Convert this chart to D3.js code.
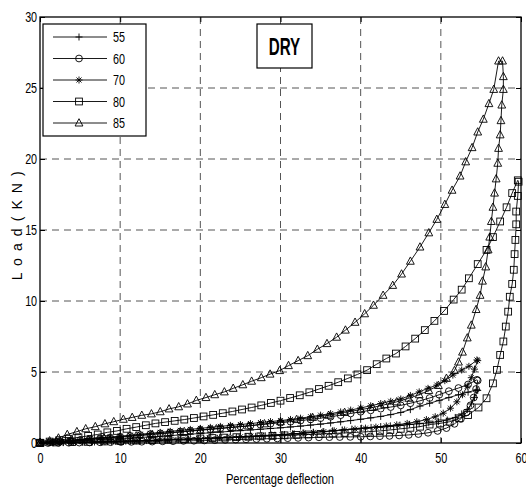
<!DOCTYPE html>
<html><head><meta charset="utf-8">
<script src="https://cdn.jsdelivr.net/npm/d3@7"></script>
<style>
body{margin:0;background:#fff;}
text{font-family:"Liberation Sans",Arial,sans-serif;}
</style></head>
<body><svg id="c" width="526" height="488"></svg>
<script>
const seriesNames = ["55","60","70","80","85"];
const xTicks = [0,10,20,30,40,50,60];
const yTicks = [0,5,10,15,20,25,30];

const load55 = [[0,0],[1.25,0.03],[2.5,0.07],[3.75,0.11],[5,0.15],[6.25,0.19],[7.5,0.23],[8.75,0.27],[10,0.31],[11.25,0.35],[12.5,0.39],[13.75,0.43],[15,0.47],[16.25,0.52],[17.5,0.57],[18.75,0.62],[20,0.67],[21.25,0.72],[22.5,0.77],[23.75,0.82],[25,0.87],[26.25,0.92],[27.5,0.97],[28.75,1.02],[30,1.07],[31.25,1.13],[32.5,1.19],[33.75,1.26],[35,1.33],[36.25,1.41],[37.5,1.49],[38.75,1.58],[40,1.67],[41.25,1.77],[42.5,1.87],[43.75,2.0],[45,2.15],[46.2,2.35],[47.4,2.6],[48.6,2.8],[49.8,3.0],[51,3.2],[52.2,3.4],[53.4,3.58],[54.5,3.75]];
const unload55 = [[54.6,3.7],[54.2,3.2],[53.8,2.75],[53.3,2.35],[52.6,2.05],[51.8,1.8],[50.8,1.62],[49.7,1.5],[48.5,1.42],[47.3,1.36],[46.1,1.31],[44.9,1.26],[43.7,1.21],[42.5,1.16],[41.3,1.1],[40.1,1.04],[38.9,0.98],[37.7,0.92],[36.5,0.86],[35.3,0.8],[34.1,0.75],[32.9,0.7],[31.7,0.65],[30.5,0.6],[29.3,0.55],[28.1,0.51],[26.9,0.47],[25.7,0.43],[24.5,0.4],[23.3,0.37],[22.1,0.34],[20.9,0.31],[19.7,0.28],[18.5,0.25],[17.3,0.23],[16.1,0.21],[14.9,0.19],[13.7,0.17],[12.5,0.15],[11.3,0.13],[10.1,0.11],[8.9,0.09],[7.7,0.08],[6.5,0.06],[5.3,0.05],[4.1,0.04],[2.9,0.03],[1.7,0.02],[0.5,0.01]];

const load60 = [[0,0],[1.25,0.05],[2.5,0.1],[3.75,0.15],[5,0.2],[6.25,0.26],[7.5,0.32],[8.75,0.38],[10,0.44],[11.25,0.5],[12.5,0.56],[13.75,0.62],[15,0.68],[16.25,0.74],[17.5,0.8],[18.75,0.86],[20,0.92],[21.25,0.98],[22.5,1.04],[23.75,1.1],[25,1.16],[26.25,1.22],[27.5,1.29],[28.75,1.36],[30,1.43],[31.25,1.5],[32.5,1.58],[33.75,1.66],[35,1.75],[36.25,1.85],[37.5,1.96],[38.75,2.08],[40,2.2],[41.25,2.3],[42.5,2.42],[43.75,2.53],[45,2.65],[46.2,2.8],[47.4,2.97],[48.6,3.17],[49.8,3.4],[51,3.65],[52.2,3.87],[53.4,4.12],[54.5,4.45]];
const unload60 = [[54.6,4.4],[54.4,3.8],[54.1,3.2],[53.7,2.65],[53.2,2.15],[52.5,1.7],[51.7,1.35],[50.7,1.05],[49.6,0.85],[48.4,0.72],[47.2,0.63],[46,0.57],[44.8,0.53],[43.6,0.5],[42.4,0.48],[41.2,0.46],[40,0.44],[38.7,0.43],[37.4,0.42],[36.1,0.41],[34.8,0.4],[33.5,0.38],[32.2,0.36],[30.9,0.34],[29.6,0.32],[28.3,0.3],[27,0.28],[25.7,0.26],[24.4,0.24],[23.1,0.22],[21.8,0.2],[20.5,0.18],[19.2,0.16],[17.9,0.15],[16.6,0.13],[15.3,0.12],[14,0.1],[12.7,0.09],[11.4,0.08],[10.1,0.07],[8.8,0.06],[7.5,0.05],[6.2,0.04],[4.9,0.03],[3.6,0.02],[2.3,0.01],[1,0]];

const load70 = [[0,0],[1.25,0.06],[2.5,0.12],[3.75,0.18],[5,0.24],[6.25,0.3],[7.5,0.36],[8.75,0.42],[10,0.48],[11.25,0.55],[12.5,0.62],[13.75,0.68],[15,0.75],[16.25,0.82],[17.5,0.89],[18.75,0.96],[20,1.03],[21.25,1.1],[22.5,1.17],[23.75,1.24],[25,1.3],[26.25,1.37],[27.5,1.44],[28.75,1.51],[30,1.58],[31.25,1.66],[32.5,1.75],[33.75,1.85],[35,1.96],[36.25,2.07],[37.5,2.19],[38.75,2.32],[40,2.47],[41.25,2.62],[42.5,2.78],[43.75,2.94],[45,3.1],[46.2,3.35],[47.3,3.6],[48.4,3.85],[49.5,4.08],[50.5,4.39],[51.5,4.78],[52.6,5.14],[53.5,5.4],[54.5,5.85]];
const unload70 = [[54.6,5.8],[54.2,5.2],[53.8,4.6],[53.3,4.0],[52.7,3.4],[52,2.9],[51.2,2.45],[50.3,2.1],[49.3,1.85],[48.2,1.65],[47,1.5],[45.8,1.38],[44.5,1.28],[43.2,1.2],[41.9,1.12],[40.6,1.05],[39.3,0.98],[38,0.92],[36.7,0.86],[35.4,0.8],[34.1,0.75],[32.8,0.7],[31.5,0.65],[30.2,0.6],[28.9,0.56],[27.6,0.52],[26.3,0.48],[25,0.44],[23.7,0.4],[22.4,0.37],[21.1,0.34],[19.8,0.31],[18.5,0.28],[17.2,0.25],[15.9,0.22],[14.6,0.2],[13.3,0.17],[12,0.15],[10.7,0.13],[9.4,0.11],[8.1,0.09],[6.8,0.07],[5.5,0.05],[4.2,0.04],[2.9,0.03],[1.6,0.02],[0.3,0.01]];

const load80 = [[0,0],[1.2,0.1],[2.4,0.2],[3.6,0.3],[4.8,0.4],[6,0.5],[7.2,0.6],[8.4,0.75],[9.6,0.85],[10.8,1.0],[12,1.12],[13.2,1.25],[14.4,1.38],[15.6,1.47],[16.8,1.56],[18,1.65],[19.2,1.76],[20.4,1.87],[21.6,1.98],[22.8,2.1],[24,2.22],[25.2,2.36],[26.4,2.5],[27.6,2.65],[28.8,2.82],[30,2.98],[31.2,3.17],[32.4,3.36],[33.6,3.57],[34.8,3.8],[36,4.03],[37.2,4.28],[38.4,4.55],[39.6,4.83],[40.8,5.13],[42,5.55],[43.2,5.95],[44.4,6.3],[45.6,6.8],[46.8,7.35],[48,7.95],[49.2,8.6],[50.4,9.3],[51.6,10.1],[52.6,10.8],[53.5,11.6],[54.6,12.6],[55.7,13.6],[56.5,14.5],[57.4,15.6],[58.2,16.6],[58.9,17.6],[59.6,18.5]];
const unload80 = [[59.7,18.4],[59.6,17.4],[59.4,16.3],[59.4,15.4],[59.3,14.3],[59.2,13.3],[59.1,12.2],[58.9,11.2],[58.6,10.3],[58.4,9.25],[58.1,8.2],[57.8,7.15],[57.4,6.2],[57,5.15],[56.5,4.2],[55.7,3.15],[54.7,2.5],[53.4,1.97],[52.3,1.74],[51.1,1.5],[49.9,1.38],[48.6,1.3],[47.4,1.15],[46.2,1.07],[45,1.0],[43.7,0.92],[42.4,0.85],[41,0.8],[39.5,0.75],[38,0.71],[36.5,0.67],[35,0.64],[33.5,0.6],[32,0.57],[30.5,0.54],[29,0.5],[27.5,0.47],[26,0.44],[24.5,0.41],[23,0.38],[21.5,0.35],[20,0.32],[18,0.28],[16,0.24],[14,0.2],[12,0.17],[10,0.14],[8,0.11],[6,0.08],[4,0.06],[2,0.04],[0,0.02]];

const load85 = [[0,0],[1.2,0.15],[2.3,0.35],[3.4,0.6],[4.6,0.8],[5.7,1.0],[6.9,1.15],[8.1,1.35],[9.2,1.5],[10.4,1.67],[11.5,1.8],[12.7,1.95],[13.9,2.05],[15,2.2],[16.1,2.4],[17.3,2.55],[18.4,2.75],[19.5,3.0],[20.7,3.2],[21.8,3.4],[23,3.6],[24.1,3.85],[25.3,4.1],[26.4,4.35],[27.6,4.6],[28.7,4.85],[29.9,5.1],[31,5.45],[32.2,5.8],[33.4,6.15],[34.6,6.6],[35.8,7.0],[37,7.45],[38.1,7.95],[39.3,8.5],[40.5,9.1],[41.6,9.7],[42.8,10.4],[44,11.1],[45.1,11.9],[46.2,12.8],[47.4,13.8],[48.5,14.8],[49.5,15.75],[50.5,16.8],[51.4,17.8],[52.4,18.8],[53.1,19.8],[53.9,20.8],[54.6,21.9],[55.3,22.8],[56,23.9],[56.6,24.9],[57.2,26.9]];
const unload85 = [[57.7,26.9],[57.8,25.8],[57.8,24.9],[57.6,23.8],[57.5,22.7],[57.4,21.7],[57.2,20.75],[57.1,19.7],[56.9,18.6],[56.7,17.6],[56.5,16.6],[56.3,15.6],[56.1,14.5],[55.9,13.6],[55.6,12.4],[55.2,11.4],[54.9,10.4],[54.4,9.4],[53.8,8.3],[53.3,7.4],[52.7,6.4],[52.2,5.7],[51.7,5.1],[50.7,4.55],[49.7,4.05],[48.5,3.7],[47.3,3.4],[46,3.15],[44.5,2.9],[43,2.7],[41.5,2.5],[40,2.35],[38,2.15],[36,1.95],[34,1.8],[32,1.65],[30,1.5],[28,1.35],[26,1.2],[24,1.1],[22,1.0],[20,0.9],[18,0.8],[16,0.7],[14,0.6],[12,0.5],[10,0.42],[8,0.34],[6,0.26],[4,0.18],[2,0.1],[0,0.05]];

const curves = [load55.concat(unload55), load60.concat(unload60), load70.concat(unload70), load80.concat(unload80), load85.concat(unload85)];
const markerTypes = ["plus","circle","star","square","triangle"];

const svg = d3.select("#c");
const L = 40, R = 521, T = 17, B = 443;
const x = d3.scaleLinear().domain([0,60]).range([L,R]);
const y = d3.scaleLinear().domain([0,30]).range([B,T]);
const NARROW = 0.72;

// grid
const grid = svg.append("g").attr("stroke","#555").attr("stroke-width",1).attr("stroke-dasharray","7,5");
xTicks.slice(1,-1).forEach(t=>grid.append("line").attr("x1",x(t)).attr("x2",x(t)).attr("y1",T).attr("y2",B));
yTicks.slice(1,-1).forEach(t=>grid.append("line").attr("x1",L).attr("x2",R).attr("y1",y(t)).attr("y2",y(t)));

// axes
const ax = d3.axisBottom(x).tickValues(xTicks).tickSize(-5).tickPadding(9).tickFormat(d3.format("d"));
const gx = svg.append("g").attr("transform",`translate(0,${B})`).call(ax);
const ay = d3.axisLeft(y).tickValues(yTicks).tickSize(-5).tickPadding(4).tickFormat(d3.format("d"));
const gy = svg.append("g").attr("transform",`translate(${L},0)`).call(ay);
const axTop = d3.axisTop(x).tickValues(xTicks).tickSize(-5).tickFormat("");
svg.append("g").attr("transform",`translate(0,${T})`).call(axTop);
const ayR = d3.axisRight(y).tickValues(yTicks).tickSize(-5).tickFormat("");
svg.append("g").attr("transform",`translate(${R},0)`).call(ayR);
svg.selectAll(".domain").attr("stroke","none");
svg.selectAll(".tick line").attr("stroke","#000");
[gx,gy].forEach(g=>g.selectAll("text").attr("font-size",15).attr("fill","#000")
  .attr("transform",`scale(${NARROW},1)`).style("font-family",'"Liberation Sans",Arial,sans-serif'));
svg.append("rect").attr("x",L).attr("y",T).attr("width",R-L).attr("height",B-T).attr("fill","none").attr("stroke","#000").attr("stroke-width",1.3);

function drawMarker(g, type){
  const s = g.append("g");
  if(type==="plus"){ s.append("path").attr("d","M-3.5,0H3.5M0,-3.5V3.5"); }
  else if(type==="circle"){ s.append("circle").attr("r",3.4); }
  else if(type==="star"){ s.append("path").attr("d","M-3.5,0H3.5M0,-3.5V3.5M-2.5,-2.5L2.5,2.5M-2.5,2.5L2.5,-2.5"); }
  else if(type==="square"){ s.append("rect").attr("x",-3.4).attr("y",-3.4).attr("width",6.8).attr("height",6.8); }
  else { s.append("path").attr("d","M0,-4.3L3.9,3L-3.9,3Z"); }
  return s;
}

const line = d3.line().x(d=>x(d[0])).y(d=>y(d[1]));
curves.forEach((c,i)=>{
  const g = svg.append("g").attr("stroke","#000").attr("fill","none").attr("stroke-width",0.9);
  g.append("path").attr("d",line(c));
  c.forEach(d=>{
    drawMarker(g, markerTypes[i]).attr("transform",`translate(${x(d[0])},${y(d[1])})`);
  });
});

// legend
const lg = svg.append("g");
lg.append("rect").attr("x",43).attr("y",24).attr("width",103).attr("height",112).attr("fill","#fff").attr("stroke","#000").attr("stroke-width",1.2);
seriesNames.forEach((n,i)=>{
  const yy = 37 + i*21.5;
  const g = lg.append("g").attr("stroke","#000").attr("fill","none").attr("stroke-width",0.9);
  g.append("line").attr("x1",53).attr("x2",107).attr("y1",yy).attr("y2",yy);
  drawMarker(g, markerTypes[i]).attr("transform",`translate(79,${yy})`);
  lg.append("text").attr("transform",`translate(113,${yy+5}) scale(${NARROW},1)`).attr("font-size",15).text(n);
});

// DRY box
svg.append("rect").attr("x",257).attr("y",24).attr("width",55).attr("height",44).attr("fill","#fff").attr("stroke","#000").attr("stroke-width",1.2);
svg.append("text").attr("transform","translate(284.5,55) scale(0.66,1)").attr("text-anchor","middle").attr("font-size",23).attr("font-weight","bold").text("DRY");

// axis labels
svg.append("text").attr("transform","translate(280,484) scale(0.8,1)").attr("text-anchor","middle").attr("font-size",14).text("Percentage deflection");
svg.append("text").attr("transform","translate(22,225) rotate(-90)").attr("text-anchor","middle").attr("font-size",14).attr("letter-spacing","1.6").text("L o a d ( K N )");
</script></body></html>
